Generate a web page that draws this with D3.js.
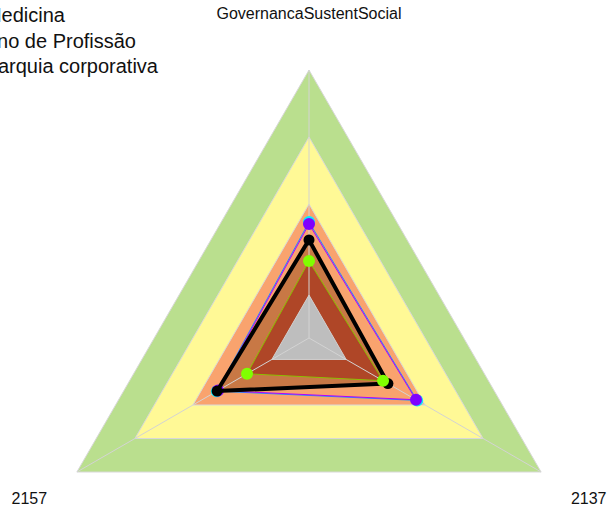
<!DOCTYPE html>
<html>
<head>
<meta charset="utf-8">
<script src="https://cdn.jsdelivr.net/npm/d3@7"></script>
<style>
  body { margin: 0; background: #fff; }
  svg { display: block; font-family: "Liberation Sans", Arial, sans-serif; }
</style>
</head>
<body>
<div id="vis"></div>
<script>
const FRAME_WIDTH = 609;
const FRAME_HEIGHT = 512;
const CX = 309, CY = 338, RADIUS = 268;

// axes: top, bottom-right, bottom-left
const categories = ["GovernancaSustentSocial", "2137", "2157"];

// background bands (outer limit of each, 0-100 scale)
const bandLimits = [100, 75, 50, 16];
const bandColors = ["#badf8e", "#fff996", "#f9a36e", "#bebebe"];

// series values per axis
const seriesNames = ["cyan", "purple", "black", "green"];
const cyanValues = [43.3, 46.6, 39.7];
const purpleValues = [42.5, 46.1, 39.2];
const blackValues = [36.6, 34.0, 39.6];
const greenValues = [28.7, 31.9, 26.7];

const legendLabels = ["Medicina", "Exercício Pleno de Profissão", "Hierarquia corporativa"];

const SERIES = [
  {values: cyanValues, stroke: "#1e90ff", point: "#00f0ff", width: 1, r: 6, fill: "none"},
  {values: purpleValues, stroke: "#b000ff", point: "#8000ff", width: 1, r: 6, fill: "none"},
  {values: blackValues, stroke: "#000", point: "#000", width: 4, r: 5.5, fill: "rgba(139,69,19,0.45)"},
  {values: greenValues, stroke: "#8cc000", point: "#80ff00", width: 1, r: 6, fill: "rgba(150,20,10,0.5)"}
];

const R_SCALE = d3.scaleLinear().domain([0, 100]).range([0, RADIUS]);
const ANGLE = d3.scaleLinear().domain([0, categories.length]).range([-Math.PI / 2, 1.5 * Math.PI]);

function pt(i, v) {
  const a = ANGLE(i);
  return [CX + R_SCALE(v) * Math.cos(a), CY + R_SCALE(v) * Math.sin(a)];
}
const lineGen = d3.line().curve(d3.curveLinearClosed);
function poly(vals) { return lineGen(vals.map((v, i) => pt(i, v))); }

const FRAME = d3.select("#vis")
  .append("svg")
    .attr("width", FRAME_WIDTH)
    .attr("height", FRAME_HEIGHT);

// outer bands (all except the grey centre)
FRAME.selectAll(".band")
  .data(bandLimits.slice(0, 3))
  .enter()
  .append("path")
    .attr("d", (d) => poly(categories.map(() => d)))
    .attr("fill", (d, i) => bandColors[i])
    .attr("stroke", "#d8d8d8")
    .attr("stroke-width", 1);

// series fills
FRAME.selectAll(".sfill")
  .data(SERIES.filter((s) => s.fill !== "none"))
  .enter()
  .append("path")
    .attr("d", (d) => poly(d.values))
    .attr("fill", (d) => d.fill);

// grey centre
FRAME.append("path")
  .attr("d", poly(categories.map(() => bandLimits[3])))
  .attr("fill", bandColors[3])
  .attr("stroke", "#d0d0d0");

// axis spokes
FRAME.selectAll(".axis")
  .data(categories)
  .enter()
  .append("line")
    .attr("x1", CX).attr("y1", CY)
    .attr("x2", (d, i) => pt(i, 100)[0])
    .attr("y2", (d, i) => pt(i, 100)[1])
    .attr("stroke", "#d3d3d3")
    .attr("stroke-width", 1);

// series lines and points
SERIES.forEach((s) => {
  FRAME.append("path")
    .attr("d", poly(s.values))
    .attr("fill", "none")
    .attr("stroke", s.stroke)
    .attr("stroke-width", s.width)
    .attr("stroke-linejoin", "round");
  FRAME.selectAll(null)
    .data(s.values)
    .enter()
    .append("circle")
      .attr("cx", (d, i) => pt(i, d)[0])
      .attr("cy", (d, i) => pt(i, d)[1])
      .attr("r", s.r)
      .attr("fill", s.point);
});

// axis labels
FRAME.selectAll(".lab")
  .data(categories)
  .enter()
  .append("text")
    .attr("x", (d, i) => pt(i, 120.5)[0])
    .attr("y", (d, i) => pt(i, 120.5)[1])
    .attr("text-anchor", "middle")
    .attr("dominant-baseline", "middle")
    .attr("font-size", "16px")
    .attr("fill", "#111")
    .text((d) => d);

// legend (cut at left edge)
const LEGEND_RIGHT = [65, 136, 158];
FRAME.selectAll(".leg")
  .data(legendLabels)
  .enter()
  .append("text")
    .attr("x", (d, i) => LEGEND_RIGHT[i])
    .attr("y", (d, i) => 22 + i * 25.5)
    .attr("text-anchor", "end")
    .attr("font-size", "20px")
    .attr("fill", "#111")
    .text((d) => d);
</script>
</body>
</html>
